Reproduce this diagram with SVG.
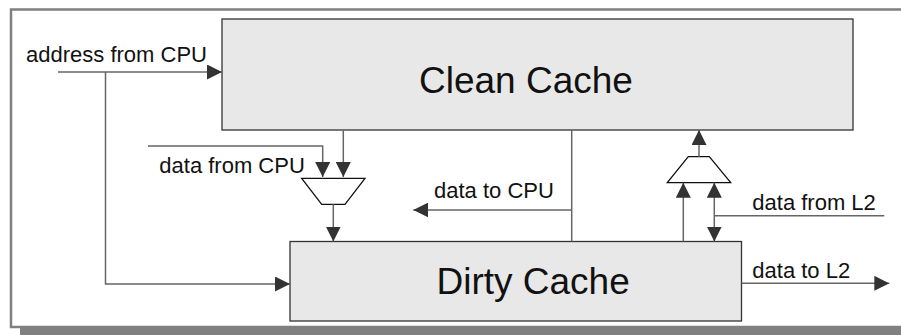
<svg xmlns="http://www.w3.org/2000/svg" width="901" height="335" viewBox="0 0 901 335">
<style>
.box{fill:#e8e8e8;stroke:#333;stroke-width:1.3}
.big{font-family:"Liberation Sans",Arial,sans-serif;font-size:37px;fill:#111}
.lbl{font-family:"Liberation Sans",Arial,sans-serif;font-size:22px;fill:#111}
.ln{fill:none;stroke:#666;stroke-width:1.5}
.mux{fill:#fff;stroke:#111;stroke-width:1.3}
</style>
<defs>
<marker id="ah" viewBox="0 0 15 15" refX="15" refY="7.5" markerWidth="15" markerHeight="15" markerUnits="userSpaceOnUse" orient="auto-start-reverse">
<path d="M0,0 L15,7.5 L0,15 Z" fill="#333"/>
</marker>
</defs>
<rect x="20" y="328" width="900" height="7" fill="#808080"/>
<rect x="11" y="9.5" width="1000" height="317.5" fill="#fff" stroke="#808080" stroke-width="2.5"/>
<g id="clean-cache">
<rect class="box" x="222" y="19" width="631" height="111"/>
<text class="big" x="419" y="93">Clean Cache</text>
</g>
<g id="dirty-cache">
<rect class="box" x="290" y="241.5" width="451.5" height="79.5"/>
<text class="big" x="436.5" y="294.3">Dirty Cache</text>
</g>
<g id="mux-left">
<polygon class="mux" points="301.7,178.3 365,178.3 345,204.3 321.7,204.3"/>
</g>
<g id="mux-right">
<polygon class="mux" points="688.3,156.7 709.3,156.7 730.7,182.7 667.3,182.7"/>
</g>
<g id="connectors">
<polyline class="ln" points="58,72 222,72" marker-end="url(#ah)"/>
<polyline class="ln" points="105.5,72 105.5,284 290,284" marker-end="url(#ah)"/>
<polyline class="ln" points="148,146 322.7,146 322.7,177" marker-end="url(#ah)"/>
<polyline class="ln" points="343.3,130 343.3,177" marker-end="url(#ah)"/>
<polyline class="ln" points="333.3,204.3 333.3,241.5" marker-end="url(#ah)"/>
<polyline class="ln" points="571.7,130 571.7,241.5"/>
<polyline class="ln" points="571.7,210 413.3,210" marker-end="url(#ah)"/>
<polyline class="ln" points="699,156.7 699,130" marker-end="url(#ah)"/>
<polyline class="ln" points="683.3,241.5 683.3,182.7" marker-end="url(#ah)"/>
<polyline class="ln" points="714.3,182.7 714.3,241.5" marker-start="url(#ah)" marker-end="url(#ah)"/>
<polyline class="ln" points="714.3,215.7 884.3,215.7"/>
<polyline class="ln" points="741.7,283.3 889.3,283.3" marker-end="url(#ah)"/>
</g>
<g id="labels">
<text class="lbl" x="26" y="62">address from CPU</text>
<text class="lbl" x="159.3" y="172.7">data from CPU</text>
<text class="lbl" x="434" y="198.3">data to CPU</text>
<text class="lbl" x="752.3" y="210">data from L2</text>
<text class="lbl" x="752.3" y="278.3">data to L2</text>
</g>
</svg>
